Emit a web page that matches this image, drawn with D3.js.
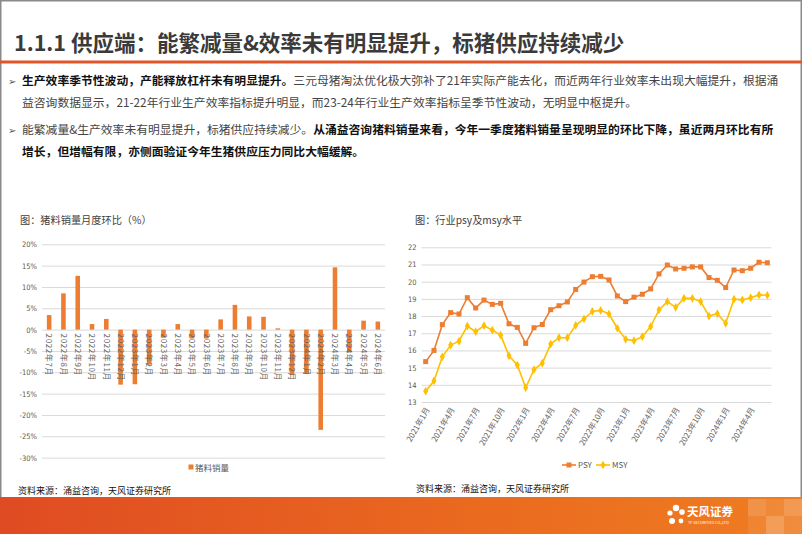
<!DOCTYPE html>
<html>
<head>
<meta charset="utf-8">
<script src="https://cdn.jsdelivr.net/npm/d3@7"></script>
<style>
  body { margin: 0; background: #fff; }
  svg { display: block; font-family: "Noto Sans CJK SC", "Noto Sans", sans-serif; }
</style>
</head>
<body>
<div id="page"></div>
<script>
// ---- 左图：猪料销量月度环比 (%) ----
const feedMonths = ['2022年7月', '2022年8月', '2022年9月', '2022年10月', '2022年11月', '2022年12月',
    '2023年1月', '2023年2月', '2023年3月', '2023年4月', '2023年5月', '2023年6月',
    '2023年7月', '2023年8月', '2023年9月', '2023年10月', '2023年11月', '2023年12月',
    '2024年1月', '2024年2月', '2024年3月', '2024年4月', '2024年5月', '2024年6月'];
const feedMoM = [3.4, 8.5, 12.6, 1.3, 2.5, -12.9, -12.8, -8.2, -1.9, 1.3, -2.1, -2.1,
    2.4, 5.8, 3.1, 3.0, 0.3, -10.6, -10.4, -23.5, 14.6, -5.3, 2.1, 1.9];
const feedTicks = [20, 15, 10, 5, 0, -5, -10, -15, -20, -25, -30];

// ---- 右图：行业PSY及MSY ----
const psyMonths = ['2021年1月', '2021年2月', '2021年3月', '2021年4月', '2021年5月', '2021年6月',
    '2021年7月', '2021年8月', '2021年9月', '2021年10月', '2021年11月', '2021年12月',
    '2022年1月', '2022年2月', '2022年3月', '2022年4月', '2022年5月', '2022年6月',
    '2022年7月', '2022年8月', '2022年9月', '2022年10月', '2022年11月', '2022年12月',
    '2023年1月', '2023年2月', '2023年3月', '2023年4月', '2023年5月', '2023年6月',
    '2023年7月', '2023年8月', '2023年9月', '2023年10月', '2023年11月', '2023年12月',
    '2024年1月', '2024年2月', '2024年3月', '2024年4月', '2024年5月', '2024年6月'];
const psyValues = [15.35, 16.0, 17.5, 18.2, 18.12, 19.07, 18.47, 18.93, 18.68, 18.74,
    17.55, 17.34, 16.41, 17.32, 17.51, 18.37, 18.6, 18.82, 19.55, 19.98,
    20.29, 20.31, 20.1, 19.17, 18.84, 19.1, 19.27, 19.58, 20.45, 20.97,
    20.74, 20.78, 20.86, 20.86, 20.24, 20.08, 19.66, 20.68, 20.64, 20.78,
    21.13, 21.1];
const msyValues = [13.63, 14.23, 15.63, 16.31, 16.54, 17.42, 17.09, 17.44, 17.18, 16.89,
    15.69, 15.15, 13.83, 14.89, 15.26, 16.37, 16.74, 16.74, 17.46, 17.83,
    18.27, 18.33, 18.12, 17.29, 16.65, 16.57, 16.8, 17.39, 18.36, 18.84,
    18.51, 19.03, 19.03, 18.84, 18.0, 18.14, 17.58, 18.98, 18.94, 19.07,
    19.23, 19.21];
const psyTicks = [13, 14, 15, 16, 17, 18, 19, 20, 21, 22];

// ---- 正文 ----
const titleText = '1.1.1 供应端：能繁减量&效率未有明显提升，标猪供应持续减少';
const bodyLines = [
    {bullet: true, parts: [['生产效率季节性波动，产能释放杠杆未有明显提升。', true],
        ['三元母猪淘汰优化极大弥补了21年实际产能去化，而近两年行业效率未出现大幅提升，根据涌', false]]},
    {bullet: false, parts: [['益咨询数据显示，21-22年行业生产效率指标提升明显，而23-24年行业生产效率指标呈季节性波动，无明显中枢提升。', false]]},
    {bullet: true, parts: [['能繁减量&生产效率未有明显提升，标猪供应持续减少。', false],
        ['从涌益咨询猪料销量来看，今年一季度猪料销量呈现明显的环比下降，虽近两月环比有所', true]]},
    {bullet: false, parts: [['增长，但增幅有限，亦侧面验证今年生猪供应压力同比大幅缓解。', true]]},
];
const sourceText = '资料来源：涌益咨询，天风证券研究所';

const W = 802, H = 534;
const ORANGE = '#ED7D31', GOLD = '#FFC000', GRID = '#d9d9d9', AXIS_TXT = '#595959';

const svg = d3.select('#page').append('svg')
    .attr('width', W)
    .attr('height', H);

const defs = svg.append('defs');
const grad = defs.append('linearGradient').attr('id', 'footGrad');
grad.append('stop').attr('offset', '0%').attr('stop-color', '#DF4B22');
grad.append('stop').attr('offset', '60%').attr('stop-color', '#EA6A1F');
grad.append('stop').attr('offset', '100%').attr('stop-color', '#EF7D22');

// 页面边框
svg.append('rect')
    .attr('x', 0.75).attr('y', 0.75)
    .attr('width', W - 1.5).attr('height', H - 1.5)
    .attr('fill', 'none')
    .attr('stroke', '#8a8a8a')
    .attr('stroke-width', 1.5);

// 标题
svg.append('text')
    .attr('x', 14).attr('y', 51)
    .attr('font-size', 21.5)
    .attr('font-weight', 700)
    .attr('fill', '#3a3a3a')
    .text(titleText);

svg.append('rect')
    .attr('x', 0).attr('y', 60.5)
    .attr('width', W).attr('height', 3)
    .attr('fill', '#E0562A');

// 正文
const lineY = [85, 107, 134, 156];
bodyLines.forEach((ln, i) => {
    if (ln.bullet) {
        svg.append('text')
            .attr('x', 8).attr('y', lineY[i] - 0.5)
            .attr('font-family', 'DejaVu Sans')
            .attr('font-size', 10)
            .attr('fill', '#555')
            .text('➢');
    }
    const t = svg.append('text')
        .attr('x', 22).attr('y', lineY[i])
        .attr('font-size', 11.8);
    ln.parts.forEach(p => {
        t.append('tspan')
            .attr('font-weight', p[1] ? 700 : 400)
            .attr('fill', p[1] ? '#111' : '#444')
            .text(p[0]);
    });
});

// ================= 左图 =================
const left = svg.append('g');

left.append('text')
    .attr('x', 20).attr('y', 224)
    .attr('font-size', 10.2)
    .attr('fill', '#404040')
    .text('图：猪料销量月度环比（%）');

const xL = d3.scaleBand()
    .domain(feedMonths)
    .range([42, 385])
    .paddingInner(0.68)
    .paddingOuter(0.34);

const yL = d3.scaleLinear()
    .domain([-30, 20])
    .range([457.6, 244.3]);

const yAxisL = left.append('g')
    .attr('transform', 'translate(42,0)')
    .call(d3.axisLeft(yL)
        .tickValues(feedTicks)
        .tickSize(-343)
        .tickPadding(5)
        .tickFormat(d => d + '%'));
yAxisL.select('.domain').remove();
yAxisL.selectAll('.tick line').attr('stroke', GRID);
yAxisL.selectAll('.tick text')
    .attr('fill', AXIS_TXT)
    .attr('font-size', 7.5)
    .attr('font-family', '"Liberation Sans Narrow", "DejaVu Sans Condensed", sans-serif');

left.append('g')
    .selectAll('rect')
    .data(feedMoM)
    .enter()
    .append('rect')
    .attr('x', (d, i) => xL(feedMonths[i]))
    .attr('width', xL.bandwidth())
    .attr('y', d => yL(Math.max(0, d)))
    .attr('height', d => Math.abs(yL(d) - yL(0)))
    .attr('fill', ORANGE);

// 竖排月份标签
left.append('g')
    .selectAll('text')
    .data(feedMonths)
    .enter()
    .append('text')
    .attr('transform', d => `translate(${xL(d) + xL.bandwidth() / 2},${yL(0) + 4}) rotate(90)`)
    .attr('dy', '0.35em')
    .attr('font-size', 8)
    .attr('letter-spacing', 0.6)
    .attr('fill', '#666')
    .text(d => d);

// 图例
left.append('rect')
    .attr('x', 188.5).attr('y', 464.5)
    .attr('width', 5).attr('height', 5)
    .attr('fill', ORANGE);
left.append('text')
    .attr('x', 195).attr('y', 470.5)
    .attr('font-size', 8.5)
    .attr('fill', AXIS_TXT)
    .text('猪料销量');

left.append('text')
    .attr('x', 18).attr('y', 494)
    .attr('font-size', 9)
    .attr('fill', '#111')
    .text(sourceText);

// ================= 右图 =================
const right = svg.append('g');

right.append('text')
    .attr('x', 415).attr('y', 224)
    .attr('font-size', 10.2)
    .attr('fill', '#404040')
    .text('图：行业psy及msy水平');

const xR = d3.scaleBand()
    .domain(psyMonths)
    .range([421.5, 771.5]);
const cx = m => xR(m) + xR.bandwidth() / 2;

const yR = d3.scaleLinear()
    .domain([13, 22])
    .range([402, 247.3]);

const yAxisR = right.append('g')
    .attr('transform', 'translate(421.5,0)')
    .call(d3.axisLeft(yR)
        .tickValues(psyTicks)
        .tickSize(-350)
        .tickPadding(5));
yAxisR.select('.domain').remove();
yAxisR.selectAll('.tick line').attr('stroke', GRID);
yAxisR.selectAll('.tick text')
    .attr('fill', AXIS_TXT)
    .attr('font-size', 7.5)
    .attr('font-family', '"Liberation Sans Narrow", "DejaVu Sans Condensed", sans-serif');

// 斜排月份标签，每三个月一个
right.append('g')
    .selectAll('text')
    .data(psyMonths.filter((d, i) => i % 3 === 0))
    .enter()
    .append('text')
    .attr('transform', d => `translate(${cx(d) + 2},${yR(13) + 6}) rotate(-60)`)
    .attr('text-anchor', 'end')
    .attr('dy', '0.35em')
    .attr('font-size', 8)
    .attr('fill', '#666')
    .text(d => d);

const lineGen = d3.line()
    .x((d, i) => cx(psyMonths[i]))
    .y(d => yR(d));

right.append('path')
    .datum(msyValues)
    .attr('d', lineGen)
    .attr('fill', 'none')
    .attr('stroke', GOLD)
    .attr('stroke-width', 1.6);

right.append('g')
    .selectAll('path')
    .data(msyValues)
    .enter()
    .append('path')
    .attr('d', d3.symbol(d3.symbolDiamond).size(22))
    .attr('transform', (d, i) => `translate(${cx(psyMonths[i])},${yR(d)})`)
    .attr('fill', GOLD);

right.append('path')
    .datum(psyValues)
    .attr('d', lineGen)
    .attr('fill', 'none')
    .attr('stroke', ORANGE)
    .attr('stroke-width', 1.6);

right.append('g')
    .selectAll('rect')
    .data(psyValues)
    .enter()
    .append('rect')
    .attr('x', (d, i) => cx(psyMonths[i]) - 2.5)
    .attr('y', d => yR(d) - 2.5)
    .attr('width', 5).attr('height', 5)
    .attr('fill', ORANGE);

// 图例
const legR = right.append('g').attr('transform', 'translate(0,465)');
legR.append('line').attr('x1', 562).attr('x2', 576).attr('stroke', ORANGE).attr('stroke-width', 1.6);
legR.append('rect').attr('x', 566.5).attr('y', -2.5).attr('width', 5).attr('height', 5).attr('fill', ORANGE);
legR.append('text').attr('x', 578).attr('y', 3).attr('font-size', 8).attr('fill', AXIS_TXT).text('PSY');
legR.append('line').attr('x1', 596).attr('x2', 610).attr('stroke', GOLD).attr('stroke-width', 1.6);
legR.append('path').attr('d', d3.symbol(d3.symbolDiamond).size(22)).attr('transform', 'translate(603,0)').attr('fill', GOLD);
legR.append('text').attr('x', 612).attr('y', 3).attr('font-size', 8).attr('fill', AXIS_TXT).text('MSY');

right.append('text')
    .attr('x', 416).attr('y', 492)
    .attr('font-size', 9)
    .attr('fill', '#111')
    .text(sourceText);

// ================= 页脚 =================
const foot = svg.append('g');
foot.append('rect')
    .attr('x', 0).attr('y', 497)
    .attr('width', W).attr('height', H - 497)
    .attr('fill', 'url(#footGrad)');
// 右侧色块
[[748, 499, 18, 17, 0.18], [766, 499, 18, 17, 0.1], [784, 499, 18, 17, 0.22],
 [748, 516, 18, 18, 0.08], [766, 516, 18, 18, 0.25], [784, 516, 18, 18, 0.12]].forEach(b => {
    foot.append('rect')
        .attr('x', b[0]).attr('y', b[1])
        .attr('width', b[2]).attr('height', b[3])
        .attr('fill', '#fff')
        .attr('opacity', b[4]);
});
// logo
const logo = foot.append('g').attr('transform', 'translate(676,515)');
[[0, -7, 3.2], [-6, -2, 2.6], [6, -3, 2.8], [-4, 6, 3], [5, 6, 2.4]].forEach(c => {
    logo.append('circle').attr('cx', c[0]).attr('cy', c[1]).attr('r', c[2]).attr('fill', '#fff');
});
foot.append('text')
    .attr('x', 687).attr('y', 516)
    .attr('font-size', 11.5)
    .attr('font-weight', 700)
    .attr('fill', '#fff')
    .text('天风证券');
foot.append('text')
    .attr('x', 688).attr('y', 524)
    .attr('font-size', 3.8)
    .attr('fill', '#fff')
    .text('TF SECURITIES CO.,LTD');
</script>
</body>
</html>
